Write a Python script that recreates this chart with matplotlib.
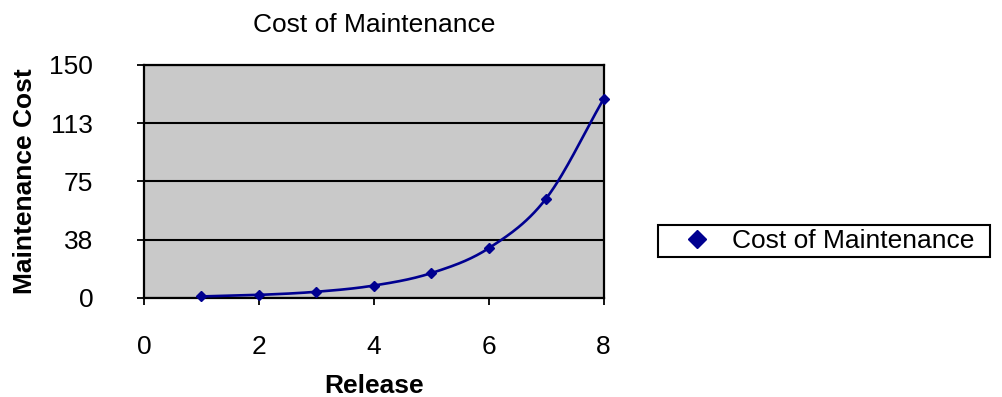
import matplotlib.pyplot as plt
import numpy as np
from matplotlib.patches import Rectangle

plt.rcParams["font.family"] = ["Liberation Sans", "DejaVu Sans"]

release = [1, 2, 3, 4, 5, 6, 7, 8]
cost = [1, 2, 4, 8, 16, 32, 64, 128]
y_ticks = [0, 37.5, 75, 112.5, 150]
y_labels = ["0", "38", "75", "113", "150"]
x_ticks = [0, 2, 4, 6, 8]

LINE = "#000090"
FS = 19


def smooth(x, y, n=30):
    # Catmull-Rom spline through the points, like Excel's smoothed line
    x = np.asarray(x, float)
    y = np.asarray(y, float)
    px = np.concatenate([[2 * x[0] - x[1]], x, [2 * x[-1] - x[-2]]])
    py = np.concatenate([[2 * y[0] - y[1]], y, [2 * y[-1] - y[-2]]])
    t = np.linspace(0, 1, n)
    xs, ys = [], []
    for i in range(1, len(px) - 2):
        for p, out in ((px, xs), (py, ys)):
            p0, p1, p2, p3 = p[i - 1], p[i], p[i + 1], p[i + 2]
            out.extend(0.5 * (2 * p1 + (-p0 + p2) * t
                              + (2 * p0 - 5 * p1 + 4 * p2 - p3) * t ** 2
                              + (-p0 + 3 * p1 - 3 * p2 + p3) * t ** 3))
    return np.array(xs), np.array(ys)


fig = plt.figure(figsize=(10.03, 3.97), dpi=100)
ax = fig.add_axes([0.1436, 0.2494, 0.4581, 0.5869])
ax.set_facecolor("#c9c9c9")

sx, sy = smooth(release, cost)
ax.plot(sx, sy, color=LINE, linewidth=1.9, zorder=3, clip_on=False)
ax.plot(release, cost, linestyle="none", marker="D", markersize=5,
        color=LINE, zorder=4, clip_on=False)
handle = plt.Line2D([], [], linestyle="none", marker="D", markersize=9,
                    color=LINE)

ax.set_xlim(0, 8)
ax.set_ylim(0, 150)
ax.set_xticks(x_ticks)
ax.set_yticks(y_ticks)
ax.set_yticklabels(y_labels)
ax.grid(axis="y", color="black", linewidth=1.5)
ax.set_axisbelow(True)
for s in ax.spines.values():
    s.set_linewidth(1.6)
ax.tick_params(axis="x", direction="out", length=5, width=1.3, pad=21.5,
               labelsize=FS)
ax.tick_params(axis="y", direction="out", length=5, width=1.3, pad=31.5,
               labelsize=FS)

ax.set_title("Cost of Maintenance", fontsize=FS, pad=24)
ax.set_xlabel("Release", fontsize=FS, fontweight="bold", labelpad=11)
ax.set_ylabel("Maintenance Cost", fontsize=FS, fontweight="bold", labelpad=9)

fig.legend([handle], ["Cost of Maintenance"], loc="center left",
           bbox_to_anchor=(0.682, 0.393), fontsize=FS, frameon=False,
           handlelength=1.0, borderpad=0, borderaxespad=0,
           handletextpad=0.83)
fig.patches.append(Rectangle((0.656, 0.3526), 0.331, 0.0806,
                             transform=fig.transFigure, fill=False,
                             edgecolor="black", linewidth=1.5))

fig.savefig("out.png", dpi=100)
